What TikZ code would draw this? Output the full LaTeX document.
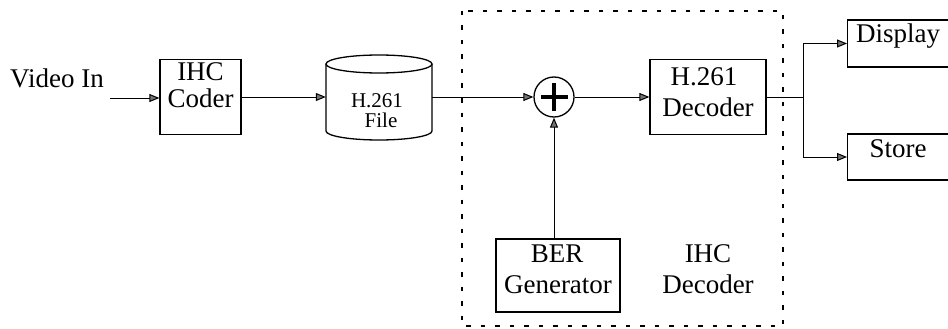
\documentclass[tikz,border=0pt]{standalone}
\usepackage{fontspec}
\setmainfont{Liberation Serif}
\usetikzlibrary{arrows.meta}

\begin{document}
\begin{tikzpicture}[x=1pt,y=-1pt,
  box/.style={draw, line width=1.3pt, inner sep=0pt},
  lbl/.style={anchor=base, inner sep=0pt, font=\fontsize{27}{30}\selectfont},
  small/.style={anchor=base, inner sep=0pt, font=\fontsize{21}{23}\selectfont},
  conn/.style={line width=1pt},
  arr/.style={conn, -{Triangle[length=10pt,width=8pt,fill=black!55]}},
  frame/.style={line width=2.2pt, dash pattern=on 4.5pt off 10pt}
]
\clip (0,0) rectangle (948,329);
\fill[white] (0,0) rectangle (948,329);

% source label
\node[lbl, anchor=base west] (vin) at (10,88) {Video In};
\coordinate (vidsrc) at (110,98);

% encoder
\node[box, minimum width=81pt, minimum height=75pt] (coder) at (200.5,97) {};
\node[lbl] (coderA) at (200.5,81) {IHC};
\node[lbl] (coderB) at (200.5,107) {Coder};

% stored file (cylinder)
\node[minimum width=106pt, minimum height=85pt, inner sep=0pt] (file) at (379,97) {};
\draw[line width=1.3pt] (326,64) -- (326,131) arc[start angle=180, end angle=360, x radius=53pt, y radius=9pt] -- (432,64);
\draw[line width=1.3pt] (379,64) ellipse[x radius=53pt, y radius=9pt];
\node[small] (fileA) at (377,107) {H.261};
\node[small] (fileB) at (381,127) {File};

% IHC decoder frame
\draw[frame] (462,11) rectangle (783,326);

% adder
\node[draw, circle, line width=1.3pt, minimum size=40pt, inner sep=0pt] (add) at (554,97) {};
\draw[line width=4pt] ([xshift=-13.5pt]add.center) -- ([xshift=13.5pt]add.center);
\draw[line width=4pt] ([yshift=-14pt]add.center) -- ([yshift=14pt]add.center);

% H.261 decoder
\node[box, minimum width=116pt, minimum height=75pt] (dec) at (708,97) {};
\node[lbl] (decA) at (704,85) {H.261};
\node[lbl] (decB) at (708,116) {Decoder};

% BER generator
\node[box, minimum width=124pt, minimum height=73pt] (ber) at (558,275.5) {};
\node[lbl] (berA) at (557,262) {BER};
\node[lbl] (berB) at (558,293) {Generator};

% frame caption
\node[lbl] (ihcA) at (708,262) {IHC};
\node[lbl] (ihcB) at (708,293) {Decoder};

% outputs
\node[box, minimum width=120pt, minimum height=47pt, anchor=west] (disp) at (847,43.5) {};
\node[lbl] (dispT) at (898,43) {Display};
\node[box, minimum width=120pt, minimum height=46pt, anchor=west] (store) at (847,157) {};
\node[lbl] (storeT) at (898,157) {Store};

% connectors
\draw[arr] (vidsrc) -- (vidsrc -| coder.west);
\draw[arr] (coder.east) -- (file.west);
\draw[arr] (file.east) -- (add.west);
\draw[arr] (add.east) -- (dec.west);
\draw[arr] (ber.north -| add.south) -- (add.south);
\coordinate (split) at (803,97);
\draw[conn] (dec.east) -- (split);
\draw[arr] (split) |- (disp.west);
\draw[arr] (split) |- (store.west);
\end{tikzpicture}
\end{document}
